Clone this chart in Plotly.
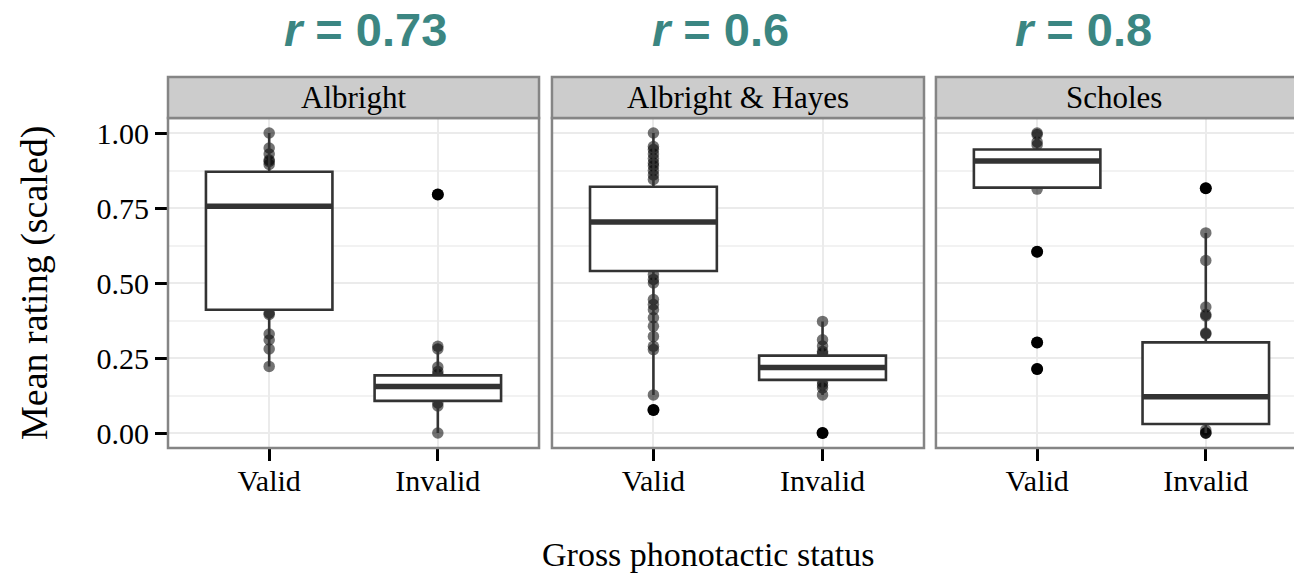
import plotly.graph_objects as go

# ---- data -------------------------------------------------------------
panels = ["Albright", "Albright & Hayes", "Scholes"]
categories = ["Valid", "Invalid"]
r_labels = ["0.73", "0.6", "0.8"]

# box summaries per panel: [Valid, Invalid]
q1 = {"Albright": [0.411, 0.107], "Albright & Hayes": [0.540, 0.177], "Scholes": [0.818, 0.030]}
median = {"Albright": [0.756, 0.155], "Albright & Hayes": [0.703, 0.218], "Scholes": [0.907, 0.121]}
q3 = {"Albright": [0.871, 0.192], "Albright & Hayes": [0.821, 0.258], "Scholes": [0.945, 0.302]}
lower_whisker = {"Albright": [0.222, 0.0], "Albright & Hayes": [0.127, 0.127], "Scholes": [0.813, 0.0]}
upper_whisker = {"Albright": [1.0, 0.289], "Albright & Hayes": [1.0, 0.372], "Scholes": [1.0, 0.667]}

# individual item ratings (semi-transparent points)
points = {
    "Albright": [
        [1.00, 0.95, 0.93, 0.91, 0.905, 0.895, 0.40, 0.395, 0.33, 0.31, 0.28, 0.222],
        [0.795, 0.289, 0.28, 0.22, 0.205, 0.195, 0.10, 0.09, 0.0],
    ],
    "Albright & Hayes": [
        [1.00, 0.955, 0.945, 0.93, 0.915, 0.90, 0.89, 0.875, 0.86, 0.845,
         0.528, 0.512, 0.50, 0.445, 0.428, 0.411, 0.384, 0.356, 0.322, 0.289, 0.278, 0.127, 0.077],
        [0.372, 0.311, 0.29, 0.272, 0.265, 0.17, 0.16, 0.15, 0.127, 0.0],
    ],
    "Scholes": [
        [1.00, 0.995, 0.97, 0.96, 0.813, 0.604, 0.302, 0.213],
        [0.816, 0.667, 0.575, 0.42, 0.395, 0.39, 0.333, 0.33, 0.01, 0.0, 0.0, 0.0],
    ],
}

# boxplot outliers (solid black)
outliers = {
    "Albright": [[], [0.795]],
    "Albright & Hayes": [[0.077], [0.0]],
    "Scholes": [[0.604, 0.302, 0.213], [0.816]],
}

y_ticks = [0.0, 0.25, 0.5, 0.75, 1.0]
y_ticktext = ["0.00", "0.25", "0.50", "0.75", "1.00"]

# ---- layout geometry --------------------------------------------------
domains = [[0.0, 0.3295], [0.341, 0.6714], [0.682, 1.0]]
x_ranges = [[0.4, 2.6], [0.4, 2.6], [0.4, 2.523]]
title_x = [0.1012, 0.428, 0.7504]
box_width = 0.75

serif = "Liberation Serif"
box_col = "#333333"
border_col = "#858585"

fig = go.Figure()

for i, panel in enumerate(panels):
    xa = "x" if i == 0 else f"x{i + 1}"
    ya = "y" if i == 0 else f"y{i + 1}"
    pos = [1, 2]
    for j in range(2):
        # raw points underneath the box
        fig.add_trace(go.Scatter(
            x=[pos[j]] * len(points[panel][j]), y=points[panel][j],
            mode="markers", xaxis=xa, yaxis=ya, zorder=0,
            marker=dict(size=11.5, color="rgba(0,0,0,0.55)", line=dict(width=0)),
            showlegend=False, hoverinfo="y"))
        # box
        fig.add_trace(go.Box(
            x=[pos[j]], q1=[q1[panel][j]], median=[median[panel][j]], q3=[q3[panel][j]],
            lowerfence=[lower_whisker[panel][j]], upperfence=[upper_whisker[panel][j]],
            width=box_width, whiskerwidth=0, boxpoints=False,
            fillcolor="white", line=dict(color=box_col, width=2.6),
            xaxis=xa, yaxis=ya, zorder=1, showlegend=False))
        # thick median bar
        fig.add_trace(go.Scatter(
            x=[pos[j] - box_width / 2, pos[j] + box_width / 2],
            y=[median[panel][j]] * 2, mode="lines", xaxis=xa, yaxis=ya, zorder=2,
            line=dict(color=box_col, width=5.5), showlegend=False, hoverinfo="skip"))
        # outliers
        if outliers[panel][j]:
            fig.add_trace(go.Scatter(
                x=[pos[j]] * len(outliers[panel][j]), y=outliers[panel][j],
                mode="markers", xaxis=xa, yaxis=ya, zorder=3,
                marker=dict(size=12, color="black", line=dict(width=0)),
                showlegend=False, hoverinfo="y"))

axis_common = dict(showgrid=True, gridcolor="#ebebeb", gridwidth=2, zeroline=False,
                   showline=False)

layout = dict(
    width=1294, height=575,
    margin=dict(l=168, r=0, t=118, b=127),
    plot_bgcolor="white", paper_bgcolor="white",
    showlegend=False,
)

for i in range(3):
    xkey = "xaxis" if i == 0 else f"xaxis{i + 1}"
    ykey = "yaxis" if i == 0 else f"yaxis{i + 1}"
    yref = "y" if i == 0 else f"y{i + 1}"
    xref = "x" if i == 0 else f"x{i + 1}"
    layout[xkey] = dict(
        axis_common, domain=domains[i], range=x_ranges[i], anchor=yref,
        tickvals=[1, 2], ticktext=categories, ticks="outside", ticklen=12,
        tickwidth=3, tickcolor="black", ticklabelstandoff=-6,
        tickfont=dict(family=serif, size=30, color="black"))
    layout[ykey] = dict(
        axis_common, domain=[0, 1], range=[-0.05, 1.05], anchor=xref,
        tickvals=y_ticks, ticktext=y_ticktext,
        ticks="outside" if i == 0 else "", ticklen=12, tickwidth=3, tickcolor="black",
        showticklabels=(i == 0),
        tickfont=dict(family=serif, size=30, color="black"),
        minor=dict(tickvals=[0.125, 0.375, 0.625, 0.875], showgrid=True,
                   gridcolor="#f2f2f2", gridwidth=1.5, ticks=""))
    if i > 0:
        layout[ykey]["matches"] = "y"

fig.update_layout(**layout)

# panel borders and facet strips
for i, panel in enumerate(panels):
    x1 = domains[i][1] if i < 2 else 1.01
    fig.add_shape(type="rect", xref="paper", yref="paper",
                  x0=domains[i][0], x1=x1, y0=0.0, y1=1.0,
                  fillcolor="rgba(0,0,0,0)", line=dict(color=border_col, width=2.5), layer="above")
    fig.add_shape(type="rect", xref="paper", yref="paper",
                  x0=domains[i][0], x1=x1, y0=1.0, y1=1.124,
                  fillcolor="#cccccc", line=dict(color=border_col, width=2.5), layer="above")
    fig.add_annotation(text=panel, xref="paper", yref="paper",
                       x=(domains[i][0] + domains[i][1]) / 2 if i < 2 else 0.84,
                       y=1.062, showarrow=False, xanchor="center", yanchor="middle",
                       font=dict(family=serif, size=31, color="black"))
    fig.add_annotation(text=f"<b><i>r</i> = {r_labels[i]}</b>", xref="paper", yref="paper",
                       x=title_x[i], y=1.267, showarrow=False, xanchor="left", yanchor="middle",
                       font=dict(family="Liberation Sans", size=47, color="#3b8682"))

fig.add_annotation(text="Mean rating (scaled)", xref="paper", yref="paper",
                   x=-0.119, y=0.5, textangle=-90, showarrow=False,
                   xanchor="center", yanchor="middle",
                   font=dict(family=serif, size=38, color="black"))
fig.add_annotation(text="Gross phonotactic status", xref="paper", yref="paper",
                   x=0.48, y=-0.324, showarrow=False, xanchor="center", yanchor="middle",
                   font=dict(family=serif, size=34, color="black"))

fig.write_html("out.html")
